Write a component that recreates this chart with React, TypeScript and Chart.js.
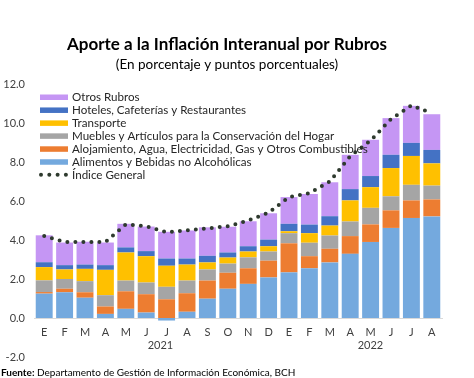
import React, { useEffect, useRef } from "react";
import { Chart, registerables } from "chart.js";

Chart.register(...registerables);

const months = ["E", "F", "M", "A", "M", "J", "J", "A", "S", "O", "N", "D", "E", "F", "M", "A", "M", "J", "J", "A"];
const yearLabels = ["2021", "2022"];

const alimentos = [1.25, 1.32, 1.04, 0.21, 0.47, 0.28, -0.13, 0.32, 0.99, 1.5, 1.75, 2.08, 2.34, 2.55, 2.85, 3.29, 3.9, 4.62, 5.13, 5.21];
const alojamiento = [0.08, 0.18, 0.28, 0.38, 0.9, 0.94, 0.96, 0.95, 0.93, 0.82, 0.8, 0.86, 1.49, 0.62, 0.7, 0.91, 0.9, 0.9, 0.9, 0.87];
const muebles = [0.6, 0.5, 0.57, 0.58, 0.55, 0.6, 0.64, 0.65, 0.57, 0.47, 0.56, 0.47, 0.52, 0.69, 0.68, 0.75, 0.85, 0.72, 0.8, 0.71];
const transporte = [0.68, 0.49, 0.63, 1.3, 1.44, 1.35, 1.08, 0.82, 0.36, 0.31, 0.3, 0.27, 0.1, 0.49, 0.51, 1.08, 1.06, 1.45, 1.48, 1.14];
const hoteles = [0.25, 0.22, 0.22, 0.24, 0.26, 0.26, 0.37, 0.31, 0.34, 0.26, 0.27, 0.34, 0.38, 0.44, 0.48, 0.58, 0.57, 0.68, 0.67, 0.69];
const otros = [1.38, 1.16, 1.17, 1.16, 1.21, 1.26, 1.37, 1.44, 1.46, 1.32, 1.28, 1.35, 1.37, 1.57, 1.74, 1.76, 1.86, 1.88, 1.9, 1.83];
const indiceGeneral = [4.2, 3.9, 3.9, 3.9, 4.8, 4.7, 4.4, 4.5, 4.6, 4.7, 5.0, 5.4, 6.2, 6.4, 7.0, 8.3, 9.1, 10.2, 10.9, 10.5];

const FONT = "Lato, 'Open Sans', sans-serif";
const TEXT = "#262626";
const LINE_COLOR = "#2E3A2E";

const barSeries = [
  { label: "Alimentos y Bebidas no Alcohólicas", data: alimentos, color: "#74A9DE" },
  { label: "Alojamiento, Agua, Electricidad, Gas y Otros Combustibles", data: alojamiento, color: "#ED7D31" },
  { label: "Muebles y Artículos para la Conservación del Hogar", data: muebles, color: "#A5A5A5" },
  { label: "Transporte", data: transporte, color: "#FFC000" },
  { label: "Hoteles, Cafeterías y Restaurantes", data: hoteles, color: "#4472C4" },
  { label: "Otros Rubros", data: otros, color: "#C596F4" },
];

const decorPlugin = {
  id: "decor",
  afterDraw(chart: any) {
    const ctx = chart.ctx as CanvasRenderingContext2D;
    ctx.save();
    // Title
    ctx.fillStyle = "#000";
    ctx.textAlign = "center";
    ctx.textBaseline = "middle";
    ctx.font = `bold 17px ${FONT}`;
    ctx.fillText("Aporte a la Inflación Interanual por Rubros", 227, 45);
    ctx.font = `13.5px ${FONT}`;
    ctx.fillText("(En porcentaje y puntos porcentuales)", 227, 65);

    // Legend
    const dsets = chart.data.datasets;
    const items: any[] = [];
    for (let i = barSeries.length - 1; i >= 0; i--) items.push({ label: dsets[i].label, color: dsets[i].backgroundColor, line: false });
    const ld = dsets[barSeries.length];
    items.push({ label: ld.label, color: ld.borderColor, line: true });
    ctx.textAlign = "left";
    ctx.font = `11.6px ${FONT}`;
    items.forEach((it, k) => {
      const y = 97 + k * 12.95;
      if (it.line) {
        ctx.fillStyle = it.color;
        for (let d = 0; d < 4; d++) {
          ctx.beginPath();
          ctx.arc(41 + d * 8.3, y, 2, 0, Math.PI * 2);
          ctx.fill();
        }
      } else {
        ctx.fillStyle = it.color;
        ctx.fillRect(40, y - 2.5, 28, 5.5);
      }
      ctx.fillStyle = TEXT;
      ctx.fillText(it.label, 72, y + 0.5);
    });

    // Year labels
    const xs = chart.scales.x;
    ctx.textAlign = "center";
    ctx.font = `11px ${FONT}`;
    ctx.fillStyle = "#404040";
    const groups = [
      { label: yearLabels[0], from: 0, to: 11 },
      { label: yearLabels[1], from: 12, to: 19 },
    ];
    groups.forEach((g) => {
      const x = (xs.getPixelForValue(g.from) + xs.getPixelForValue(g.to)) / 2 + (g.from === 0 ? 4 : 10);
      ctx.fillText(g.label, x, 345);
    });

    // Source
    ctx.textAlign = "left";
    ctx.fillStyle = "#000";
    ctx.font = `bold 10px ${FONT}`;
    const f = "Fuente:";
    ctx.fillText(f, 1, 372.5);
    const w = ctx.measureText(f).width;
    ctx.font = `10px ${FONT}`;
    ctx.fillText(" Departamento de Gestión de Información Económica, BCH", 1 + w, 372.5);
    ctx.restore();
  },
};

export default function App() {
  const ref = useRef<HTMLCanvasElement | null>(null);
  useEffect(() => {
    if (!ref.current) return;
    const datasets: any[] = barSeries.map((s) => ({
      type: "bar",
      label: s.label,
      data: s.data,
      backgroundColor: s.color,
      borderWidth: 0,
      stack: "rubros",
      order: 1,
      barPercentage: 0.83,
      categoryPercentage: 1,
    }));
    datasets.push({
      type: "line",
      label: "Índice General",
      data: indiceGeneral,
      borderColor: LINE_COLOR,
      backgroundColor: LINE_COLOR,
      borderWidth: 4,
      borderDash: [0, 8],
      borderCapStyle: "round",
      pointRadius: 0,
      tension: 0,
      stack: "indice",
      order: 0,
    });
    const chart = new Chart(ref.current, {
      type: "bar",
      data: { labels: months, datasets },
      options: {
        animation: false,
        responsive: false,
        layout: { padding: { left: 0, right: 32, top: 84, bottom: 21 } },
        plugins: { legend: { display: false }, tooltip: { enabled: false }, title: { display: false } },
        scales: {
          x: {
            stacked: true,
            position: { y: 0 } as any,
            grid: { display: false, drawTicks: false },
            border: { display: true, color: "#D9D9D9", width: 1 },
            ticks: { color: "#404040", font: { size: 11, family: FONT }, padding: 8, maxRotation: 0, autoSkip: false },
          },
          y: {
            stacked: true,
            min: -2,
            max: 12,
            grid: { display: false, drawTicks: false },
            border: { display: false },
            afterFit: (scale: any) => {
              scale.width = 34;
            },
            ticks: {
              stepSize: 2,
              color: "#404040",
              font: { size: 11, family: FONT },
              padding: 9,
              callback: (v: any) => Number(v).toFixed(1),
            },
          },
        },
      },
      plugins: [decorPlugin],
    });
    return () => chart.destroy();
  }, []);
  return (
    <div style={{ position: "absolute", left: 0, top: 0, width: 474, height: 378, background: "#fff" }}>
      <canvas ref={ref} width={474} height={378} />
    </div>
  );
}
